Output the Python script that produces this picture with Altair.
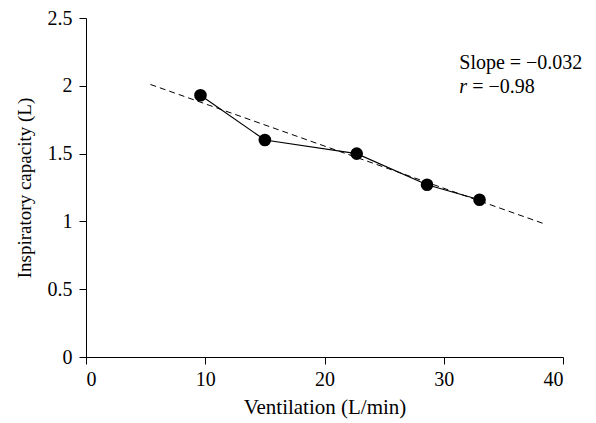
import altair as alt
import pandas as pd

# Data
ventilation = [9.6, 15.0, 22.7, 28.6, 33.0]
capacity = [1.93, 1.60, 1.50, 1.27, 1.16]

fit_x = [5.4, 38.5]
fit_y = [2.01, 0.98]

ann_x = [31.3]
slope_y = [2.17]
r_y = [1.99]

pts = pd.DataFrame({"x": ventilation, "y": capacity})
fit = pd.DataFrame({"x": fit_x, "y": fit_y})
ann = pd.DataFrame({"x": ann_x, "ys": slope_y, "yr": r_y})

FONT = "Liberation Serif"
FS = 20

xs = alt.Scale(domain=[0, 40], nice=False, zero=False)
ys = alt.Scale(domain=[0, 2.5], nice=False, zero=False)

xax = alt.Axis(values=[0, 10, 20, 30, 40], title="Ventilation (L/min)", grid=False,
               tickSize=7, labelPadding=5, titlePadding=7, format="d",
               titleFontSize=21)
yax = alt.Axis(values=[0, 0.5, 1, 1.5, 2, 2.5], title="Inspiratory capacity (L)", grid=False,
               tickSize=7, labelPadding=7, titlePadding=13, format=".1~f",
               titleFontSize=19)

dashed = alt.Chart(fit).mark_line(color="black", strokeWidth=1, strokeDash=[6, 4]).encode(
    x=alt.X("x:Q", scale=xs, axis=xax),
    y=alt.Y("y:Q", scale=ys, axis=yax),
)

line = alt.Chart(pts).mark_line(color="black", strokeWidth=1.2).encode(
    x=alt.X("x:Q", scale=xs), y=alt.Y("y:Q", scale=ys)
)

points = alt.Chart(pts).mark_circle(color="black", size=160, opacity=1).encode(
    x=alt.X("x:Q", scale=xs), y=alt.Y("y:Q", scale=ys)
)

slope_t = alt.Chart(ann).mark_text(align="left", baseline="middle", font=FONT, fontSize=FS,
                                   color="black", text="Slope = \u22120.032").encode(
    x=alt.X("x:Q", scale=xs), y=alt.Y("ys:Q", scale=ys)
)
r_t = alt.Chart(ann).mark_text(align="left", baseline="middle", font=FONT, fontSize=FS,
                               fontStyle="italic", color="black", text="r").encode(
    x=alt.X("x:Q", scale=xs), y=alt.Y("yr:Q", scale=ys)
)
r_v = alt.Chart(ann).mark_text(align="left", baseline="middle", font=FONT, fontSize=FS,
                               color="black", text="= \u22120.98", dx=13).encode(
    x=alt.X("x:Q", scale=xs), y=alt.Y("yr:Q", scale=ys)
)

chart = alt.layer(dashed, line, points, slope_t, r_t, r_v).properties(
    width=477, height=339,
    autosize=alt.AutoSizeParams(type="none"),
    padding={"left": 78, "top": 10, "right": 20, "bottom": 66},
).configure_view(stroke=None).configure_axis(
    domainColor="black", tickColor="black", labelColor="black", titleColor="black",
    labelFont=FONT, titleFont=FONT, labelFontSize=FS,
    titleFontWeight="normal", domainWidth=1, tickWidth=1,
)

chart.save("out.html", embed_options={"renderer": "svg", "actions": False})
